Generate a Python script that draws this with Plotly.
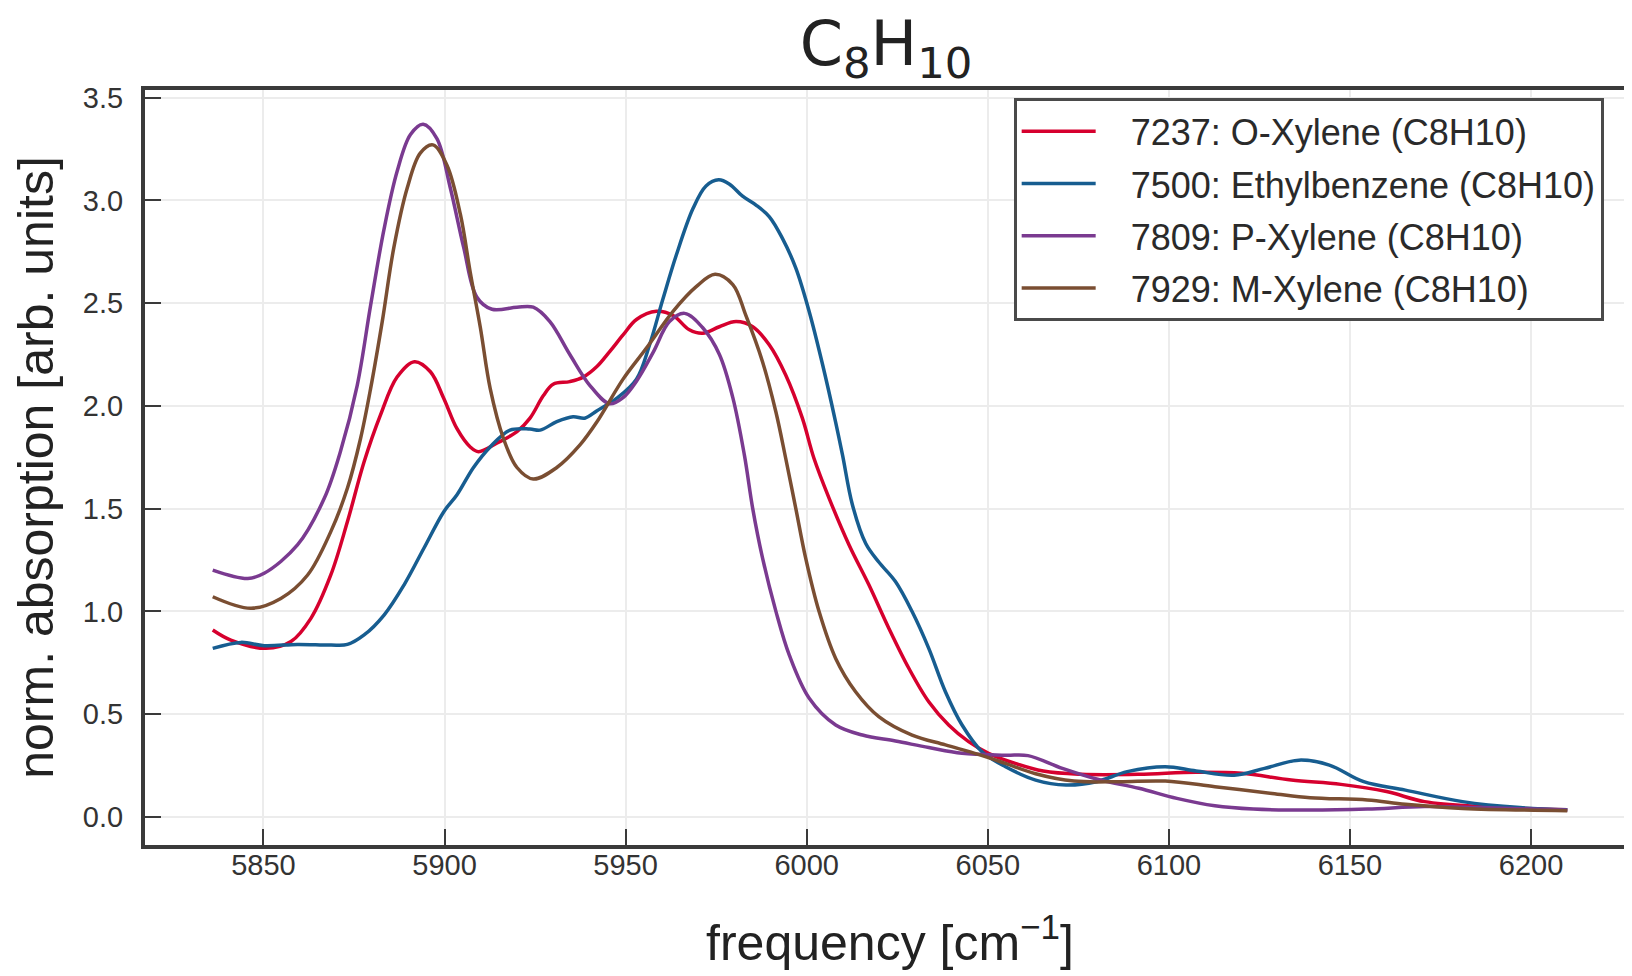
import plotly.graph_objects as go

# ---- data ----
o_xylene_x = [5836, 5841, 5850.7, 5857.6, 5863.1, 5868.6, 5873.2, 5877.8, 5882.3, 5886.9,
              5891.7, 5896.1, 5899.8, 5903.4, 5907.1, 5909.4, 5914.4, 5920, 5923.6, 5927.3,
              5930.0, 5934.6, 5938.3, 5942, 5945.6, 5949.3, 5953, 5958.5, 5963.1, 5967.6,
              5971.3, 5975.9, 5980.5, 5985.1, 5989.7, 5994.2, 5998.8, 6002, 6006.2, 6011.7,
              6017.2, 6022.7, 6028.2, 6033.7, 6039.2, 6044.7, 6050.2, 6054.9, 6065.3, 6075.9,
              6091.7, 6107.5, 6120.1, 6133.8, 6147.5, 6160.1, 6170.6, 6186.4, 6210]
o_xylene_y = [0.909, 0.86, 0.82, 0.853, 0.966, 1.177, 1.437, 1.728, 1.955, 2.14,
              2.215, 2.166, 2.036, 1.89, 1.80, 1.777, 1.818, 1.874, 1.94, 2.05,
              2.105, 2.118, 2.14, 2.19, 2.264, 2.345, 2.42, 2.46, 2.44, 2.37,
              2.353, 2.385, 2.41, 2.385, 2.296, 2.15, 1.94, 1.745, 1.55, 1.323,
              1.128, 0.917, 0.723, 0.56, 0.447, 0.366, 0.309, 0.276, 0.223, 0.207,
              0.207, 0.217, 0.212, 0.179, 0.158, 0.123, 0.074, 0.05, 0.035]

ethylbenzene_x = [5836, 5843.8, 5850.2, 5859.4, 5868.6, 5873.2, 5877.8, 5883.3, 5888.8, 5894.3,
                  5899.8, 5903.4, 5908, 5912.6, 5918.1, 5923.6, 5926.4, 5931, 5935.5, 5938.7,
                  5942, 5947.5, 5953, 5956.6, 5960.3, 5964, 5968.6, 5972.2, 5975.7, 5978.6,
                  5982.3, 5986, 5989.7, 5993.3, 5997, 6000.7, 6004.4, 6008, 6009.9, 6012.6,
                  6016.3, 6019.9, 6024.5, 6029.1, 6033.7, 6038.3, 6042.9, 6048.4, 6054.9, 6063.2,
                  6071.6, 6080, 6088.5, 6099, 6107.5, 6118, 6126.4, 6135.9, 6144.3, 6153.8,
                  6165.3, 6181.1, 6196.9, 6210]
ethylbenzene_y = [0.82, 0.849, 0.833, 0.839, 0.836, 0.839, 0.885, 0.982, 1.128, 1.307,
                  1.485, 1.566, 1.70, 1.80, 1.882, 1.887, 1.882, 1.923, 1.947, 1.94,
                  1.975, 2.036, 2.13, 2.296, 2.52, 2.734, 2.96, 3.07, 3.10, 3.08,
                  3.02, 2.977, 2.92, 2.815, 2.67, 2.458, 2.20, 1.92, 1.76, 1.52,
                  1.33, 1.24, 1.145, 0.999, 0.82, 0.609, 0.447, 0.317, 0.244, 0.179,
                  0.155, 0.171, 0.22, 0.244, 0.223, 0.203, 0.236, 0.276, 0.252, 0.171,
                  0.13, 0.074, 0.045, 0.035]

p_xylene_x = [5836, 5845.7, 5850.2, 5859.4, 5866.8, 5871.3, 5875.9, 5879.6, 5883.3, 5886.9,
              5890.6, 5894.1, 5897.9, 5901.6, 5905.3, 5908.9, 5913.1, 5920, 5924.5, 5929.1,
              5934.6, 5940.1, 5945.6, 5949.3, 5953, 5957.6, 5962.1, 5966.3, 5971.3, 5975.9,
              5979.6, 5982.8, 5985.1, 5987.8, 5991.5, 5995.2, 6000.7, 6008, 6015.4, 6024.5,
              6033.7, 6042.9, 6054.9, 6061.1, 6070.6, 6081.1, 6091.7, 6102.2, 6112.7, 6123.3,
              6139, 6154.8, 6170.6, 6186.4, 6210]
p_xylene_y = [1.201, 1.160, 1.185, 1.323, 1.55, 1.78, 2.10, 2.49, 2.86, 3.14,
              3.32, 3.37, 3.30, 3.06, 2.77, 2.53, 2.47, 2.48, 2.48, 2.41,
              2.25, 2.10, 2.01, 2.04, 2.12, 2.26, 2.41, 2.45, 2.38, 2.25,
              2.04, 1.76, 1.50, 1.26, 1.00, 0.787, 0.577, 0.447, 0.398, 0.369,
              0.337, 0.309, 0.30, 0.298, 0.236, 0.179, 0.139, 0.09, 0.054, 0.038,
              0.033, 0.038, 0.05, 0.045, 0.033]

m_xylene_x = [5836, 5846.6, 5854.8, 5862.2, 5868.6, 5873.2, 5876.8, 5879.6, 5882.8, 5886,
              5889.7, 5893.3, 5896.8, 5900.7, 5904.4, 5907.1, 5909.9, 5912.6, 5916.3, 5920,
              5924.5, 5931, 5937.4, 5942, 5949.3, 5955.7, 5963.1, 5969.5, 5974.7, 5979.6,
              5983.2, 5987.8, 5991.5, 5994.2, 5997, 5999.7, 6003.4, 6008, 6013.5, 6019.9,
              6029.1, 6038.3, 6047.4, 6054.9, 6063.2, 6073.8, 6086.4, 6099, 6112.7, 6128.5,
              6139, 6154.8, 6165.3, 6181.1, 6210]
m_xylene_y = [1.071, 1.015, 1.063, 1.177, 1.388, 1.60, 1.84, 2.085, 2.41, 2.77,
              3.06, 3.23, 3.27, 3.17, 2.93, 2.65, 2.38, 2.085, 1.84, 1.70,
              1.644, 1.70, 1.81, 1.92, 2.13, 2.28, 2.46, 2.58, 2.64, 2.59,
              2.44, 2.215, 1.97, 1.745, 1.50, 1.26, 1.00, 0.771, 0.609, 0.488,
              0.398, 0.35, 0.304, 0.26, 0.21, 0.174, 0.171, 0.174, 0.147, 0.114,
              0.093, 0.082, 0.061, 0.041, 0.03]

series_names = ["7237: O-Xylene (C8H10)", "7500: Ethylbenzene (C8H10)",
                "7809: P-Xylene (C8H10)", "7929: M-Xylene (C8H10)"]
series_x = [o_xylene_x, ethylbenzene_x, p_xylene_x, m_xylene_x]
series_y = [o_xylene_y, ethylbenzene_y, p_xylene_y, m_xylene_y]
series_colors = ["#d6002e", "#175d90", "#7a3a90", "#7a4e32"]

x_ticks = [5850, 5900, 5950, 6000, 6050, 6100, 6150, 6200]
y_ticks = [0.0, 0.5, 1.0, 1.5, 2.0, 2.5, 3.0, 3.5]

fig = go.Figure()
for i, (name, xs, ys, col) in enumerate(zip(series_names, series_x, series_y, series_colors)):
    fig.add_trace(go.Scatter(
        x=xs, y=ys, mode="lines", name="\u00a0\u00a0\u00a0" + name, legendgroup=f"g{i}",
        line=dict(color=col, width=3.5, shape="spline", smoothing=1.0),
    ))

FONT = "Liberation Sans, Arial, Helvetica, sans-serif"
AX = "#3a3a3a"

fig.update_layout(
    width=1632, height=976,
    paper_bgcolor="white", plot_bgcolor="white",
    margin=dict(l=137, r=5, t=82, b=139, autoexpand=False),
    font=dict(family=FONT, color="#2a2a2a"),
    title=dict(text="C<sub>8</sub>H<sub>10</sub>",
               font=dict(family="DejaVu Sans, sans-serif", size=62, color="#222"),
               x=0.538, xanchor="center", y=0.964, yanchor="middle"),
    legend=dict(x=0.583, y=0.989, xanchor="left", yanchor="top",
                bgcolor="white", bordercolor="#4a4a4a", borderwidth=3,
                font=dict(family=FONT, size=36, color="#2a2a2a"),
                itemwidth=74, tracegroupgap=2.5),
    showlegend=True,
)

fig.update_xaxes(
    range=[5817.3, 6228.7], tickvals=x_ticks, ticktext=[str(v) for v in x_ticks],
    ticks="inside", ticklen=16, tickwidth=2, tickcolor=AX,
    showline=True, linewidth=4, linecolor=AX, mirror=True,
    showgrid=True, gridcolor="#ececec", gridwidth=1.5, zeroline=False,
    tickfont=dict(family=FONT, size=29, color="#333"), ticklabelstandoff=-9,
    title=dict(text="frequency [cm<sup>−1</sup>]", font=dict(family=FONT, size=50, color="#222"),
               standoff=46),
    automargin=False,
)
fig.update_yaxes(
    range=[-0.137, 3.537], tickvals=y_ticks, ticktext=[f"{v:.1f}" for v in y_ticks],
    ticks="inside", ticklen=16, tickwidth=2, tickcolor=AX,
    showline=True, linewidth=4, linecolor=AX, mirror=True,
    showgrid=True, gridcolor="#ececec", gridwidth=1.5, zeroline=False,
    tickfont=dict(family=FONT, size=29, color="#333"), ticklabelstandoff=12,
    title=dict(text="norm. absorption [arb. units]", font=dict(family=FONT, size=50, color="#222"),
               standoff=21),
    automargin=False,
)

fig.write_html("out.html")
